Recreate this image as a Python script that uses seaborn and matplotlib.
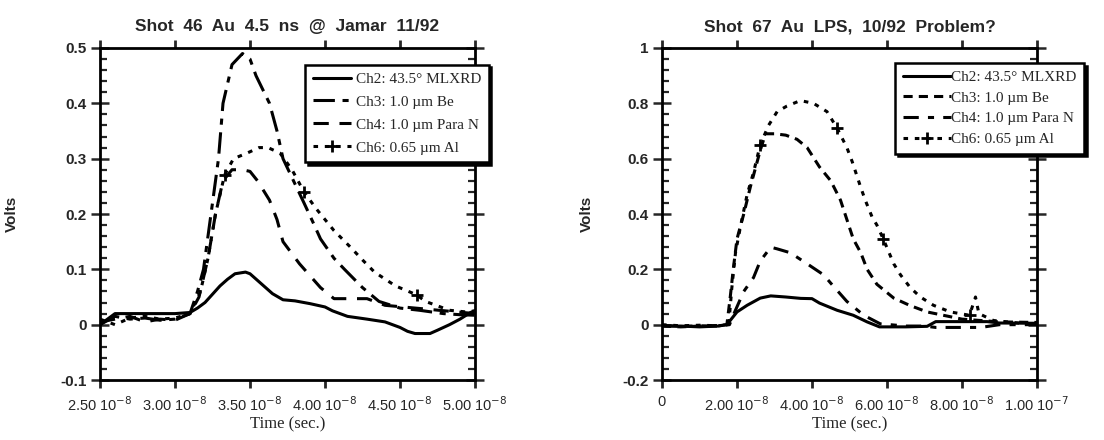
import numpy as np
import pandas as pd
import matplotlib
matplotlib.use("Agg")
import matplotlib.pyplot as plt
from matplotlib.ticker import MultipleLocator
import seaborn as sns

# ---------------- data (time in units of 1e-8 s) ----------------
# Left panel: Shot 46
t2L = [2.5, 2.55, 2.6, 2.7, 2.8, 2.9, 3.0, 3.1, 3.15, 3.2, 3.25, 3.3, 3.35, 3.4, 3.47, 3.5, 3.55, 3.6,
       3.65, 3.72, 3.8, 3.9, 4.0, 4.05, 4.15, 4.28, 4.4, 4.5, 4.55, 4.6, 4.7, 4.75, 4.83, 4.9, 4.97, 5.0]
v2L = [0.0, 0.01, 0.02, 0.02, 0.02, 0.02, 0.02, 0.022, 0.03, 0.04, 0.055, 0.07, 0.082, 0.092, 0.095, 0.092,
       0.08, 0.068, 0.056, 0.045, 0.043, 0.038, 0.032, 0.025, 0.015, 0.01, 0.005, -0.005, -0.012, -0.016,
       -0.016, -0.01, 0.0, 0.01, 0.022, 0.025]

t3L = [2.5, 2.6, 2.7, 2.8, 2.9, 3.0, 3.1, 3.15, 3.19, 3.24, 3.29, 3.32, 3.38, 3.45, 3.5, 3.54, 3.63, 3.68,
       3.72, 3.79, 3.86, 3.92, 3.97, 4.06, 4.13, 4.25, 4.36, 4.5, 4.63, 4.79, 4.9, 5.0]
v3L = [0.0, 0.015, 0.01, 0.012, 0.008, 0.01, 0.02, 0.06, 0.1, 0.2, 0.3, 0.4, 0.47, 0.49, 0.48, 0.45, 0.4,
       0.35, 0.3, 0.26, 0.22, 0.185, 0.155, 0.12, 0.1, 0.067, 0.042, 0.03, 0.026, 0.02, 0.018, 0.017]

t4L = [2.5, 2.6, 2.7, 2.8, 2.9, 3.0, 3.1, 3.16, 3.22, 3.27, 3.32, 3.38, 3.45, 3.5, 3.55, 3.63, 3.68, 3.72,
       3.83, 3.97, 4.06, 4.28, 4.4, 4.6, 4.8, 5.0]
v4L = [0.005, 0.01, 0.015, 0.005, 0.01, 0.008, 0.02, 0.05, 0.12, 0.2, 0.26, 0.28, 0.28, 0.277, 0.26, 0.225,
       0.19, 0.15, 0.11, 0.067, 0.047, 0.047, 0.035, 0.03, 0.025, 0.02]

t6L = [2.5, 2.6, 2.7, 2.8, 2.9, 3.0, 3.1, 3.17, 3.22, 3.27, 3.33, 3.39, 3.48, 3.56, 3.62, 3.7, 3.78, 3.86,
       3.94, 4.06, 4.17, 4.25, 4.33, 4.47, 4.61, 4.67, 4.83, 4.94, 5.0]
v6L = [0.01, 0.0, 0.012, 0.015, 0.01, 0.012, 0.02, 0.06, 0.12, 0.2, 0.27, 0.3, 0.31, 0.32, 0.32, 0.31, 0.28,
       0.24, 0.21, 0.17, 0.14, 0.117, 0.095, 0.07, 0.054, 0.042, 0.026, 0.023, 0.025]

# Right panel: Shot 67
t2R = [0, 0.5, 1.0, 1.5, 1.73, 2.0, 2.27, 2.62, 2.9, 3.3, 3.7, 4.0, 4.2, 4.67, 5.1, 5.47, 5.8, 6.5, 7.07,
       7.3, 8.0, 8.67, 9.0, 10.0]
v2R = [-0.005, -0.005, -0.008, -0.005, 0.0, 0.046, 0.07, 0.096, 0.104, 0.1, 0.095, 0.094, 0.078, 0.052,
       0.034, 0.01, -0.008, -0.008, -0.006, 0.011, 0.011, 0.011, 0.006, 0.005]

t3R = [0, 0.5, 1.0, 1.5, 1.73, 1.82, 1.9, 2.0, 2.18, 2.36, 2.5, 2.62, 2.76, 3.0, 3.3, 3.6, 3.87, 4.2, 4.5,
       4.76, 4.93, 5.1, 5.3, 5.47, 5.73, 6.18, 6.6, 7.07, 7.5, 8.0, 9.0, 10.0]
v3R = [-0.005, -0.008, -0.005, -0.003, 0.0, 0.1, 0.2, 0.31, 0.4, 0.5, 0.57, 0.63, 0.69, 0.69, 0.685, 0.67,
       0.64, 0.57, 0.52, 0.45, 0.38, 0.31, 0.26, 0.2, 0.146, 0.096, 0.07, 0.046, 0.034, 0.02, 0.01, 0.008]

t4R = [0, 0.5, 1.0, 1.5, 1.8, 1.9, 2.18, 2.44, 2.62, 2.9, 3.07, 3.42, 3.87, 4.31, 4.5, 4.93, 5.38, 5.82,
       6.5, 7.0, 7.3, 8.5, 9.0, 10.0]
v4R = [-0.003, -0.006, -0.004, -0.005, 0.0, 0.034, 0.12, 0.17, 0.23, 0.28, 0.274, 0.26, 0.22, 0.18, 0.15,
       0.084, 0.034, 0.003, -0.005, -0.005, -0.01, -0.01, 0.0, 0.0]

t6R = [0, 0.5, 1.0, 1.5, 1.78, 1.86, 1.96, 2.1, 2.27, 2.44, 2.62, 2.84, 3.07, 3.33, 3.69, 4.04, 4.4, 4.67,
       4.93, 5.07, 5.29, 5.42, 5.6, 5.73, 5.9, 6.18, 6.36, 6.62, 6.89, 7.24, 7.69, 8.2, 8.36, 8.45, 8.84,
       9.73, 10.0]
v6R = [0.0, -0.004, -0.002, -0.004, 0.0, 0.13, 0.26, 0.36, 0.47, 0.55, 0.65, 0.72, 0.77, 0.79, 0.81, 0.8,
       0.77, 0.71, 0.64, 0.59, 0.5, 0.45, 0.39, 0.36, 0.31, 0.22, 0.18, 0.134, 0.1, 0.07, 0.046, 0.034, 0.1,
       0.04, 0.015, 0.003, 0.005]

labels = ["Ch2: 43.5° MLXRD", "Ch3: 1.0 µm Be", "Ch4: 1.0 µm Para N", "Ch6: 0.65 µm Al"]
titles = ["Shot  46  Au  4.5  ns  @  Jamar  11/92", "Shot  67  Au  LPS,  10/92  Problem?"]

xticksL = [2.5, 3.0, 3.5, 4.0, 4.5, 5.0]
xlabelsL = ["2.50 10$^{-8}$", "3.00 10$^{-8}$", "3.50 10$^{-8}$", "4.00 10$^{-8}$", "4.50 10$^{-8}$",
            "5.00 10$^{-8}$"]
xticksR = [0, 2, 4, 6, 8, 10]
xlabelsR = ["0", "2.00 10$^{-8}$", "4.00 10$^{-8}$", "6.00 10$^{-8}$", "8.00 10$^{-8}$", "1.00 10$^{-7}$"]
yticksL = [-0.1, 0, 0.1, 0.2, 0.3, 0.4, 0.5]
ylabelsL = ["-0.1", "0", "0.1", "0.2", "0.3", "0.4", "0.5"]
yticksR = [-0.2, 0, 0.2, 0.4, 0.6, 0.8, 1.0]
ylabelsR = ["-0.2", "0", "0.2", "0.4", "0.6", "0.8", "1"]

SCALE = 1e-8

# ---------------- style ----------------
sns.set_style("ticks")
plt.rcParams["font.family"] = ["Liberation Sans", "DejaVu Sans"]
plt.rcParams["axes.linewidth"] = 2.0

fig = plt.figure(figsize=(11.04, 4.4), dpi=100)
axL = fig.add_axes([100 / 1104, 60 / 440, 375 / 1104, 332 / 440])
axR = fig.add_axes([662 / 1104, 60 / 440, 375 / 1104, 332 / 440])

stylesL = ["-", (0, (7, 2.5, 2, 2.5)), (0, (5, 3.5)), (0, (1.5, 2.2))]
stylesR = ["-", (0, (3, 2)), (0, (5, 3, 2, 3)), (0, (1.5, 2.2))]


def style_plus(line):
    line.set_marker("+")
    line.set_markersize(8)
    line.set_markeredgewidth(2.0)
    line.set_markeredgecolor("black")
    line.set_markerfacecolor("black")


def draw(ax, series, styles, xt, xl, yt, yl, xlim, ylim, yminor, title, legx, legy, hpad, hlen, lspace):
    for i, (t, v) in enumerate(series):
        df = pd.DataFrame({"time": np.array(t) * SCALE, "volts": v})
        sns.lineplot(data=df, x="time", y="volts", ax=ax, color="black", linewidth=2.2,
                     linestyle=styles[i], sort=False, estimator=None, label=labels[i])
        if i == 3:
            ln = ax.lines[-1]
            style_plus(ln)
            ln.set_markevery((10, 7))
    ax.set_xlim(xlim[0] * SCALE, xlim[1] * SCALE)
    ax.set_ylim(*ylim)
    ax.set_xticks(np.array(xt) * SCALE)
    ax.set_xticklabels(xl, fontsize=10.5)
    ax.set_yticks(yt)
    ax.set_yticklabels(yl, fontsize=11, fontweight="bold")
    ax.yaxis.set_minor_locator(MultipleLocator(yminor))
    ax.tick_params(axis="x", which="major", direction="out", length=6, width=2, top=True, bottom=True, pad=5)
    ax.tick_params(axis="y", which="major", direction="inout", length=13, width=1.8, left=True, right=True,
                   pad=3)
    ax.tick_params(axis="y", which="minor", direction="in", length=5, width=1.6, left=True, right=True)
    ax.tick_params(axis="x", which="minor", bottom=False, top=False)
    for s in ax.spines.values():
        s.set_visible(True)
        s.set_linewidth(2.0)
        s.set_color("black")
    ax.set_title(title, fontsize=12.5, fontweight="bold", pad=12)
    ax.set_xlabel("Time (sec.)", fontsize=12, family=["Liberation Serif", "DejaVu Serif"], labelpad=2)
    ax.set_ylabel("Volts", fontsize=11, fontweight="bold")
    leg = ax.legend(loc="upper left", bbox_to_anchor=(legx, legy), frameon=True, fancybox=False,
                    shadow={"color": "black", "alpha": 1.0}, framealpha=1.0, edgecolor="black",
                    prop={"family": ["Liberation Serif", "DejaVu Serif"], "size": 11},
                    handlelength=hlen, handletextpad=hpad, labelspacing=lspace, borderpad=0.5,
                    borderaxespad=0, numpoints=1)
    leg.get_frame().set_linewidth(1.8)
    leg.set_clip_on(False)
    handles = leg.get_lines()
    h6 = handles[3]
    style_plus(h6)
    n = len(h6.get_xdata())
    h6.set_markevery([n // 2])


draw(axL, [(t2L, v2L), (t3L, v3L), (t4L, v4L), (t6L, v6L)], stylesL, xticksL, xlabelsL, yticksL, ylabelsL,
     (2.5, 5.0), (-0.1, 0.5), 0.02, titles[0], 0.547, 0.95, 0.3, 2.5, 0.6)
draw(axR, [(t2R, v2R), (t3R, v3R), (t4R, v4R), (t6R, v6R)], stylesR, xticksR, xlabelsR, yticksR, ylabelsR,
     (0, 10), (-0.2, 1.0), 0.04, titles[1], 0.621, 0.955, 0.0, 3.2, 0.45)

axL.yaxis.set_label_coords(-0.215, 0.5)
axR.yaxis.set_label_coords(-0.181, 0.5)

fig.savefig("out.png", dpi=100, facecolor="white")
